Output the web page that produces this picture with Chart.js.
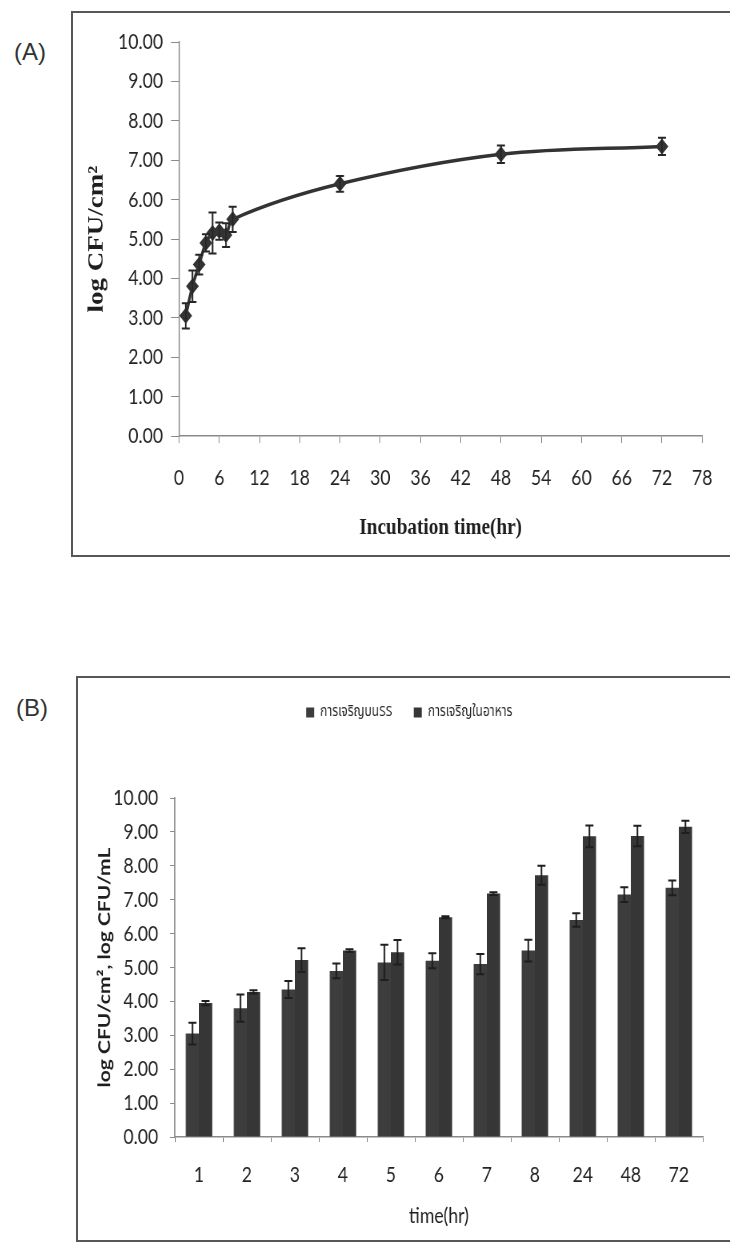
<!DOCTYPE html>
<html>
<head>
<meta charset="utf-8">
<script src="https://cdn.jsdelivr.net/npm/chart.js@4.4.1/dist/chart.umd.min.js"></script>
<style>
  html, body { margin: 0; padding: 0; background: #fff; }
  body { width: 730px; height: 1245px; position: relative; overflow: hidden; font-family: 'Liberation Sans', Arial, sans-serif; }
  .tag { position: absolute; font-size: 24px; color: #333; line-height: 30px; }
  .frame { position: absolute; border: 2px solid #575757; box-sizing: border-box; }
  canvas { position: absolute; }
</style>
</head>
<body>
<div class="tag" style="left:14px; top:37px;">(A)</div>
<div class="frame" style="left:71px; top:11px; width:700px; height:546px;"></div>
<!-- charts are drawn wide and shown at 80% width -->
<canvas id="chartA" width="821" height="542" style="left:73px; top:13px; width:657px; height:542px;"></canvas>

<div class="tag" style="left:16px; top:693px;">(B)</div>
<div class="frame" style="left:76px; top:676px; width:700px; height:566px;"></div>
<canvas id="chartB" width="814" height="562" style="left:79px; top:678px; width:651px; height:562px;"></canvas>

<script>
// sampling times (hr)
const hours = [1, 2, 3, 4, 5, 6, 7, 8, 24, 48, 72];
const hourLabels = ['1', '2', '3', '4', '5', '6', '7', '8', '24', '48', '72'];

// log CFU/cm2 on stainless steel, with SD
const growthSS = [3.05, 3.8, 4.35, 4.9, 5.15, 5.2, 5.1, 5.5, 6.4, 7.15, 7.35];
const errSS = [0.32, 0.4, 0.25, 0.22, 0.52, 0.22, 0.3, 0.32, 0.2, 0.22, 0.22];

// log CFU/mL in the food, with SD
const growthFood = [3.95, 4.28, 5.22, 5.5, 5.45, 6.48, 7.18, 7.72, 8.87, 8.88, 9.15];
const errFood = [0.06, 0.05, 0.35, 0.04, 0.36, 0.03, 0.04, 0.28, 0.32, 0.3, 0.18];

const legendLabels = ['การเจริญบนSS', 'การเจริญในอาหาร'];

Chart.defaults.font.family = 'Lato, sans-serif';
Chart.defaults.color = '#242424';

const AXIS = '#8a8a8a';
const fmt2 = (v) => Number(v).toFixed(2);

// vertical whiskers with caps, taken from dataset.errors
const errorBars = {
  id: 'errorBars',
  afterDatasetsDraw(chart, args, opts) {
    const { ctx } = chart;
    const yScale = chart.scales.y;
    chart.data.datasets.forEach((ds, di) => {
      if (!ds.errors) return;
      const meta = chart.getDatasetMeta(di);
      ctx.save();
      ctx.strokeStyle = opts.color;
      ctx.lineWidth = opts.width;
      meta.data.forEach((el, i) => {
        const raw = ds.data[i];
        const val = typeof raw === 'object' ? raw.y : raw;
        const e = ds.errors[i];
        const top = yScale.getPixelForValue(val + e);
        const bot = yScale.getPixelForValue(val - e);
        const x = el.x;
        const c = opts.cap / 2;
        ctx.beginPath();
        ctx.moveTo(x, top); ctx.lineTo(x, bot);
        ctx.moveTo(x - c, top); ctx.lineTo(x + c, top);
        ctx.moveTo(x - c, bot); ctx.lineTo(x + c, bot);
        ctx.stroke();
      });
      ctx.restore();
    });
  }
};

// (A) growth curve on the coupon
new Chart(document.getElementById('chartA'), {
  type: 'line',
  data: {
    datasets: [{
      data: hours.map((h, i) => ({ x: h, y: growthSS[i] })),
      errors: errSS,
      borderColor: '#333',
      backgroundColor: '#333',
      borderWidth: 3.5,
      pointStyle: 'rectRot',
      pointRadius: 5.5,
      pointBackgroundColor: '#3a3a3a',
      pointBorderColor: '#333',
      tension: 0.35,
    }],
  },
  options: {
    responsive: false,
    animation: false,
    devicePixelRatio: 1,
    layout: { padding: { top: 29, right: 21, left: 0, bottom: 0 } },
    plugins: {
      legend: { display: false },
      tooltip: { enabled: false },
      errorBars: { color: '#262626', width: 2, cap: 10 },
    },
    scales: {
      x: {
        type: 'linear', min: 0, max: 78,
        ticks: { stepSize: 6, autoSkip: false, padding: 22, font: { size: 22 } },
        grid: { drawOnChartArea: false, tickLength: 7, tickColor: AXIS },
        border: { color: AXIS, width: 1.5 },
        title: {
          display: true, text: 'Incubation time(hr)', color: '#1e1e1e',
          font: { family: "'Liberation Serif', serif", size: 24, weight: 'bold' },
          padding: { top: 0, bottom: 13 },
        },
        afterFit: (s) => { s.height = 119; },
      },
      y: {
        min: 0, max: 10,
        ticks: { stepSize: 1, padding: 10, font: { size: 22 }, callback: fmt2 },
        grid: { drawOnChartArea: false, tickLength: 10, tickColor: AXIS },
        border: { color: AXIS, width: 1.5 },
        title: {
          display: true, text: 'log CFU/cm²', color: '#1e1e1e',
          font: { family: "'Liberation Serif', serif", size: 27, weight: 'bold' },
          padding: { top: 14, bottom: 0 },
        },
        afterFit: (s) => { s.width = 132.5; },
      },
    },
  },
  plugins: [errorBars],
});

// (B) coupon vs food, grouped bars
new Chart(document.getElementById('chartB'), {
  type: 'bar',
  data: {
    labels: hourLabels,
    datasets: [
      { label: legendLabels[0], data: growthSS, errors: errSS, backgroundColor: '#3d3d3d' },
      { label: legendLabels[1], data: growthFood, errors: errFood, backgroundColor: '#363636' },
    ],
  },
  options: {
    responsive: false,
    animation: false,
    devicePixelRatio: 1,
    datasets: { bar: { categoryPercentage: 0.55, barPercentage: 1.0 } },
    layout: { padding: { top: 0, right: 0, left: 12, bottom: 0 } },
    plugins: {
      legend: {
        position: 'top', weight: 3000,
        labels: {
          boxWidth: 10, boxHeight: 10, padding: 27, color: '#2a2a2a',
          font: { family: "'Noto Sans Thai', 'Noto Sans', Lato, sans-serif", size: 15 },
        },
      },
      // empty spacer between legend and plot
      title: { display: true, text: '', font: { size: 10 }, padding: { top: 0, bottom: 56 } },
      tooltip: { enabled: false },
      errorBars: { color: '#1e1e1e', width: 2, cap: 10 },
    },
    scales: {
      x: {
        ticks: { padding: 20, font: { size: 22 } },
        grid: { offset: true, drawOnChartArea: false, tickLength: 5, tickColor: AXIS },
        border: { color: AXIS, width: 1.5 },
        title: {
          display: true, text: 'time(hr)', color: '#1e1e1e',
          font: { size: 22 }, padding: { top: 0, bottom: 11 },
        },
        // keep a right margin for the plot only, the legend stays full width
        afterFit: (s) => { s.height = 103; s.paddingRight = 34; },
      },
      y: {
        min: 0, max: 10,
        ticks: { stepSize: 1, padding: 15, font: { size: 22 }, callback: fmt2 },
        grid: { drawOnChartArea: false, tickLength: 6, tickColor: AXIS },
        border: { color: AXIS, width: 1.5 },
        title: {
          display: true, text: 'log CFU/cm², log CFU/mL', color: '#1e1e1e',
          font: { size: 21, weight: 'bold' }, padding: { top: 8, bottom: 0 },
        },
        afterFit: (s) => { s.width = 108; },
      },
    },
  },
  plugins: [errorBars],
});
</script>
</body>
</html>
